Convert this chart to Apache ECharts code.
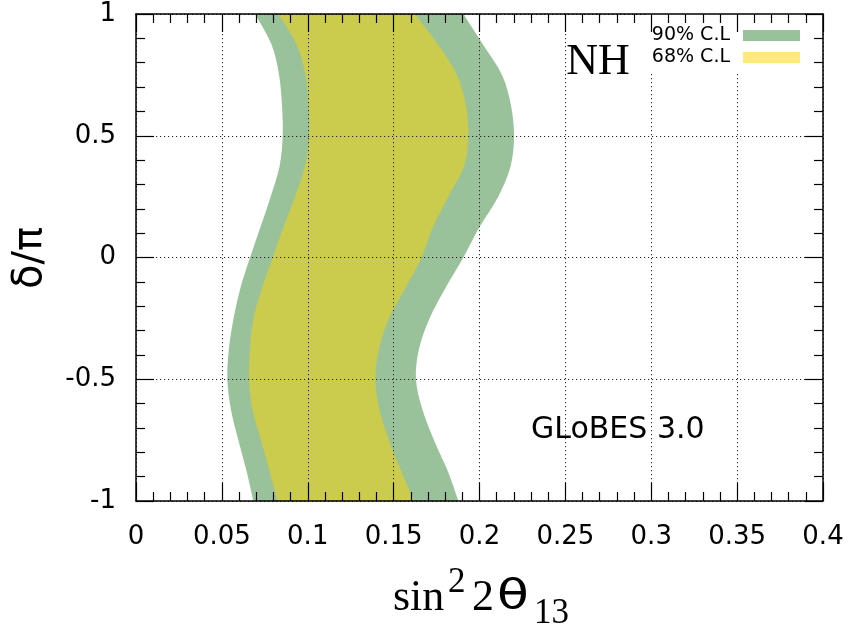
<!DOCTYPE html>
<html>
<head>
<meta charset="utf-8">
<script src="https://cdn.jsdelivr.net/npm/echarts@6/dist/echarts.min.js"></script>
<style>html,body{margin:0;padding:0;background:#fff}#c{width:853px;height:628px}</style>
</head>
<body>
<div id="c"></div>
<script>
// delta/pi sample rows (top to bottom)
const deltaPi = [1, 0.875, 0.75, 0.625, 0.5, 0.375, 0.25, 0.125, 0, -0.125, -0.25, -0.375, -0.5, -0.625, -0.75, -0.875, -1];
// 90% C.L. region boundaries in sin^2 2theta13
const cl90Left  = [0.0693, 0.0789, 0.0833, 0.0850, 0.0854, 0.0836, 0.0784, 0.0725, 0.0664, 0.0608, 0.0568, 0.0541, 0.0532, 0.0553, 0.0596, 0.0643, 0.0683];
const cl90Right = [0.1906, 0.2020, 0.2131, 0.2183, 0.2201, 0.2181, 0.2109, 0.2000, 0.1906, 0.1802, 0.1709, 0.1648, 0.1630, 0.1668, 0.1735, 0.1814, 0.1877];
// 68% C.L. region boundaries
const cl68Left  = [0.0829, 0.0935, 0.0987, 0.1003, 0.1007, 0.0984, 0.0926, 0.0859, 0.0796, 0.0734, 0.0684, 0.0664, 0.0658, 0.0678, 0.0728, 0.0777, 0.0823];
const cl68Right = [0.1624, 0.1758, 0.1869, 0.1921, 0.1935, 0.1910, 0.1818, 0.1729, 0.1663, 0.1569, 0.1473, 0.1415, 0.1394, 0.1418, 0.1473, 0.1543, 0.1619];
const seriesNames = ['90% C.L', '68% C.L'];
const xTicks = [0, 0.05, 0.1, 0.15, 0.2, 0.25, 0.3, 0.35, 0.4];
const yTicks = [-1, -0.5, 0, 0.5, 1];

const GREEN = '#99c29a', OLIVE = '#cbcb4d', YELLOW = '#ffe97d';

function crSegs(P) {
  let s = '';
  for (let i = 0; i < P.length - 1; i++) {
    const p0 = P[i - 1] || P[i], p1 = P[i], p2 = P[i + 1], p3 = P[i + 2] || P[i + 1];
    const c1x = p1[0] + (p2[0] - p0[0]) / 6, c1y = p1[1] + (p2[1] - p0[1]) / 6;
    const c2x = p2[0] - (p3[0] - p1[0]) / 6, c2y = p2[1] - (p3[1] - p1[1]) / 6;
    s += ' C' + c1x + ' ' + c1y + ' ' + c2x + ' ' + c2y + ' ' + p2[0] + ' ' + p2[1];
  }
  return s;
}
function bandRenderer(left, right, color) {
  return function (params, api) {
    if (params.dataIndex !== 0) return null;
    const L = deltaPi.map((d, i) => api.coord([left[i], d]));
    const R = deltaPi.map((d, i) => api.coord([right[i], d])).reverse();
    let p = 'M' + L[0][0] + ' ' + L[0][1] + crSegs(L);
    p += ' L' + R[0][0] + ' ' + R[0][1] + crSegs(R) + ' Z';
    return { type: 'path', shape: { pathData: p }, style: { fill: color, stroke: null } };
  };
}

const tickStyle = { color: '#000', width: 1.2 };
function mainAxis(min, max, interval, position, showLabel, margin) {
  return {
    type: 'value', min: min, max: max, interval: interval, position: position, z: 10,
    axisLine: { show: true, onZero: false, lineStyle: { color: '#000', width: 1.5 } },
    axisTick: { show: true, inside: true, length: 18, lineStyle: tickStyle },
    minorTick: { show: true, splitNumber: 5, length: 9, lineStyle: tickStyle },
    axisLabel: { show: showLabel, fontSize: 26, color: '#000', fontFamily: 'DejaVu Sans', margin: margin },
    splitLine: { show: false }
  };
}
function gridAxis(min, max, interval, position) {
  return {
    type: 'value', min: min, max: max, interval: interval, position: position, z: 3,
    axisLine: { show: false }, axisTick: { show: false }, axisLabel: { show: false },
    splitLine: { show: true, lineStyle: { color: '#222', width: 1, type: [1.2, 2.8] } }
  };
}

const chart = echarts.init(document.getElementById('c'), null, { renderer: 'canvas' });
chart.setOption({
  backgroundColor: '#fff',
  animation: false,
  grid: { left: 136, right: 30, top: 14, bottom: 127 },
  xAxis: [
    mainAxis(xTicks[0], xTicks[xTicks.length - 1], 0.05, 'bottom', true, 23),
    mainAxis(xTicks[0], xTicks[xTicks.length - 1], 0.05, 'top', false, 8),
    gridAxis(xTicks[0], xTicks[xTicks.length - 1], 0.05, 'bottom')
  ],
  yAxis: [
    mainAxis(yTicks[0], yTicks[yTicks.length - 1], 0.5, 'left', true, 20),
    mainAxis(yTicks[0], yTicks[yTicks.length - 1], 0.5, 'right', false, 8),
    gridAxis(yTicks[0], yTicks[yTicks.length - 1], 0.5, 'left')
  ],
  legend: {
    show: true, orient: 'vertical', right: 30, top: 14, align: 'right',
    padding: [12, 23, 5, 5], backgroundColor: '#fff', z: 5,
    icon: 'rect', itemWidth: 57, itemHeight: 11, itemGap: 3,
    textStyle: { fontSize: 19, fontFamily: 'DejaVu Sans', color: '#000', lineHeight: 18, padding: [0, 8, 0, 0] },
    selectedMode: false,
    data: [
      { name: seriesNames[0], itemStyle: { color: GREEN } },
      { name: seriesNames[1], itemStyle: { color: YELLOW } }
    ]
  },
  series: [
    {
      name: seriesNames[0], type: 'custom', z: 1, clip: true,
      xAxisIndex: 0, yAxisIndex: 0, itemStyle: { color: GREEN },
      renderItem: bandRenderer(cl90Left, cl90Right, GREEN),
      data: deltaPi.map((d, i) => [cl90Left[i], d])
    },
    {
      name: seriesNames[1], type: 'custom', z: 2, clip: true,
      xAxisIndex: 0, yAxisIndex: 0, itemStyle: { color: OLIVE },
      renderItem: bandRenderer(cl68Left, cl68Right, OLIVE),
      data: deltaPi.map((d, i) => [cl68Left[i], d])
    }
  ],
  graphic: [
    { type: 'text', z: 20, x: 598, y: 62, style: { text: 'NH', fontSize: 44, fontFamily: 'Liberation Serif', fill: '#000', align: 'center', verticalAlign: 'middle' } },
    { type: 'text', z: 20, x: 531, y: 430, style: { text: 'GLoBES 3.0', fontSize: 30, fontFamily: 'DejaVu Sans', fill: '#000', align: 'left', verticalAlign: 'middle' } },
    { type: 'text', z: 20, x: 31, y: 258, rotation: Math.PI / 2, style: { text: 'δ/π', fontSize: 40, fontFamily: 'DejaVu Sans', fill: '#000', align: 'center', verticalAlign: 'middle' } },
    { type: 'text', z: 20, x: 393, y: 598, style: { text: 'sin', fontSize: 44, fontFamily: 'Liberation Serif', fill: '#000', align: 'left', verticalAlign: 'middle' } },
    { type: 'text', z: 20, x: 448, y: 583, style: { text: '2', fontSize: 35, fontFamily: 'Liberation Serif', fill: '#000', align: 'left', verticalAlign: 'middle' } },
    { type: 'text', z: 20, x: 472, y: 598, style: { text: '2', fontSize: 44, fontFamily: 'Liberation Serif', fill: '#000', align: 'left', verticalAlign: 'middle' } },
    { type: 'text', z: 20, x: 497, y: 598, scaleX: 1.3, style: { text: 'θ', fontSize: 40, fontFamily: 'DejaVu Sans', fill: '#000', align: 'left', verticalAlign: 'middle' } },
    { type: 'text', z: 20, x: 534, y: 614, style: { text: '13', fontSize: 35, fontFamily: 'Liberation Serif', fill: '#000', align: 'left', verticalAlign: 'middle' } }
  ]
});
</script>
</body>
</html>
